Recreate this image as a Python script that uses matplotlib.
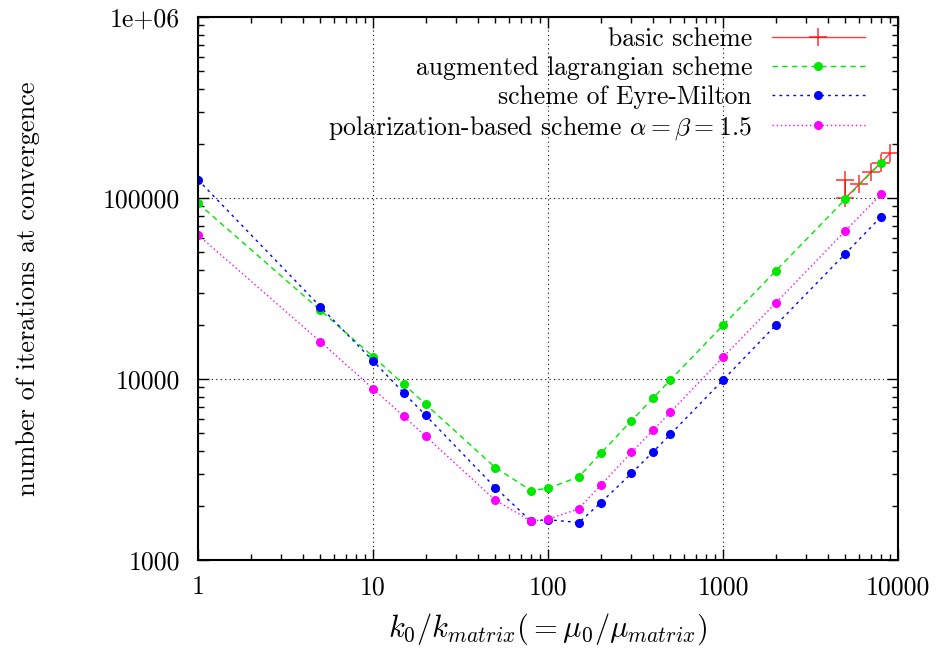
import matplotlib
matplotlib.use("Agg")
import matplotlib.pyplot as plt
from matplotlib.ticker import FixedLocator, FixedFormatter, LogLocator, NullFormatter

plt.rcParams['font.family'] = ['cmr10', 'DejaVu Serif']
plt.rcParams['mathtext.fontset'] = 'cm'
plt.rcParams['axes.unicode_minus'] = False

# data
x_basic = [5000, 5000, 6000, 7000, 8000, 9000]
y_basic = [126000, 100000, 119000, 139000, 156000, 177000]

x_k = [1, 5, 10, 15, 20, 50, 80, 100, 150, 200, 300, 400, 500, 1000, 2000, 5000, 8000]
y_aug = [93500, 24000, 13300, 9350, 7250, 3240, 2420, 2490, 2880, 3880, 5890, 7880, 9870,
         19800, 39500, 98400, 157000]
y_em = [126000, 25100, 12600, 8370, 6300, 2510, 1640, 1670, 1610, 2070, 3010, 3970, 4940,
        9870, 19800, 49200, 78800]
y_pol = [62500, 16100, 8840, 6220, 4820, 2140, 1640, 1680, 1920, 2590, 3930, 5230, 6550,
         13180, 26300, 65800, 105000]

xticks = [1, 10, 100, 1000, 10000]
xticklabels = ['1', '10', '100', '1000', '10000']
yticks = [1000, 10000, 100000, 1000000]
yticklabels = ['1000', '10000', '100000', '1e+06']

FS = 18.5

fig = plt.figure(figsize=(9.46, 6.53), dpi=100)
ax = fig.add_axes([198/946, 1-560/653, 700/946, 543/653])

ax.plot(x_basic, y_basic, color='#ff0000', lw=1.0, marker='+', markersize=13,
        markeredgewidth=1.2, alpha=0.75, label='basic scheme')
ax.plot(x_k, y_aug, color='#00e800', lw=1.0, ls=(0, (4, 3)), marker='o', markersize=5.5,
        label='augmented lagrangian scheme')
ax.plot(x_k, y_em, color='#0000ff', lw=1.0, ls=(0, (2, 3)), marker='o', markersize=5.5,
        label='scheme of Eyre-Milton')
ax.plot(x_k, y_pol, color='#ff00ff', lw=1.0, ls=(0, (1, 2)), marker='o', markersize=5.5,
        label=r'polarization-based scheme $\alpha = \beta = 1.5$')

ax.set_xscale('log')
ax.set_yscale('log')
ax.set_xlim(1, 10000)
ax.set_ylim(1000, 1000000)

ax.xaxis.set_major_locator(FixedLocator(xticks))
ax.xaxis.set_major_formatter(FixedFormatter(xticklabels))
ax.yaxis.set_major_locator(FixedLocator(yticks))
ax.yaxis.set_major_formatter(FixedFormatter(yticklabels))
ax.xaxis.set_minor_locator(LogLocator(base=10, subs=range(2, 10)))
ax.yaxis.set_minor_locator(LogLocator(base=10, subs=range(2, 10)))
ax.xaxis.set_minor_formatter(NullFormatter())
ax.yaxis.set_minor_formatter(NullFormatter())

ax.tick_params(which='both', direction='in', top=True, right=True, labelsize=FS)
ax.tick_params(axis='x', pad=11)
ax.tick_params(axis='y', pad=13)
ax.tick_params(which='major', length=8, width=1)
ax.tick_params(which='minor', length=4, width=1)
ax.grid(True, which='major', color='black', ls=(0, (1, 3)), lw=0.8)

for s in ax.spines.values():
    s.set_linewidth(1.5)

ax.set_xlabel(r'$k_0/k_{matrix}(=\mu_0/\mu_{matrix})$', fontsize=22, labelpad=9)
ax.set_ylabel('number of iterations at convergence', fontsize=19, labelpad=45)

leg = ax.legend(loc='upper right', bbox_to_anchor=(0.967, 1.0), frameon=False,
                markerfirst=False, fontsize=FS, handlelength=3.6, labelspacing=0.2,
                borderaxespad=0.0, handletextpad=0.78)

fig.savefig('out.png', dpi=100)
